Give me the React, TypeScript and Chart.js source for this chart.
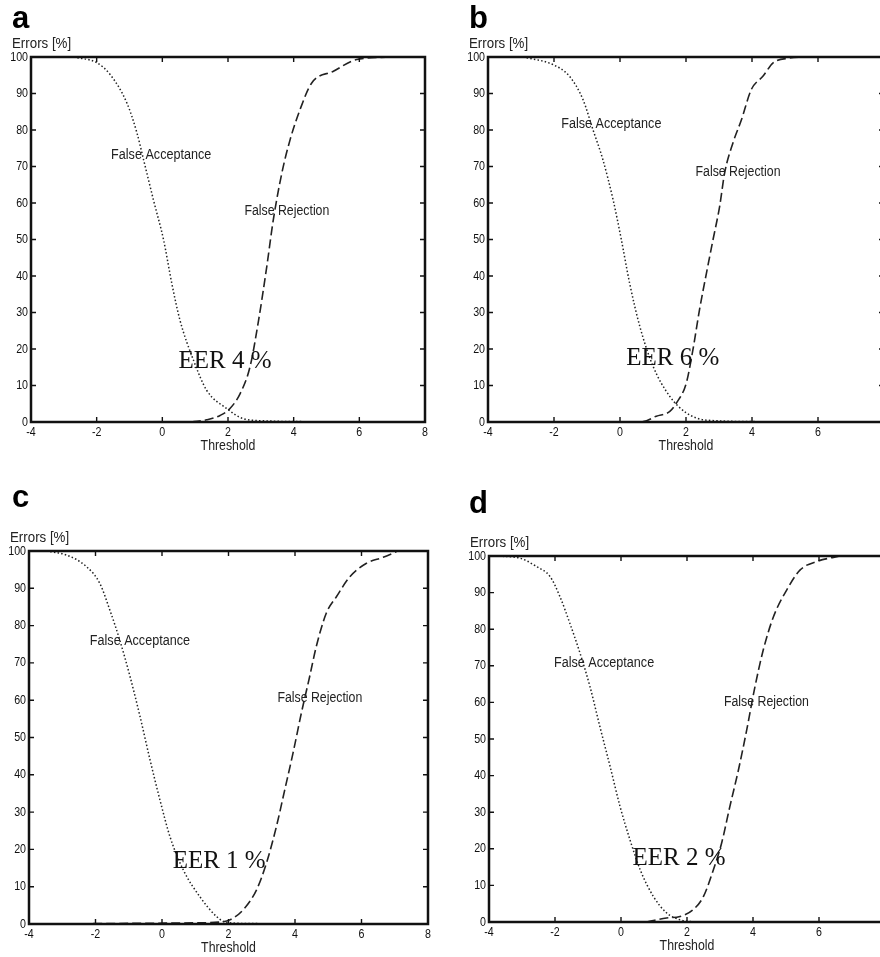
import React, { useEffect, useRef } from "react";
import { Chart, registerables } from "chart.js";
Chart.register(...registerables);

// ---- shared axis ticks ----
const xTickValues = [-4, -2, 0, 2, 4, 6, 8];
const yTickValues = [0, 10, 20, 30, 40, 50, 60, 70, 80, 90, 100];
const seriesNames = ["False Acceptance", "False Rejection"];
const panelLetters = ["a", "b", "c", "d"];
const eerLabels = ["EER 4 %", "EER 6 %", "EER 1 %", "EER 2 %"];
const xAxisTitle = "Threshold";
const yAxisTitle = "Errors [%]";

// ---- panel a ----
const aFaX = [-2.7, -1.99, -1.59, -1.08, -0.77, -0.57, -0.27, 0.04, 0.29, 0.54, 0.95, 1.35, 1.96, 2.47, 3.18, 4.5, 6.93];
const aFaY = [100, 98.4, 95.2, 87.4, 79.1, 71.8, 60.8, 49.8, 37.9, 27.8, 16.9, 8.7, 3.7, 0.9, 0.3, 0.1, 0.1];
const aFrX = [0.9, 1.35, 1.76, 2.06, 2.37, 2.67, 2.93, 3.18, 3.38, 3.64, 3.89, 4.19, 4.55, 5.21, 5.92, 6.93];
const aFrY = [0, 0.6, 1.8, 3.7, 7.8, 15.1, 27.8, 42.5, 55.4, 68.2, 77.3, 85.5, 92.9, 96.1, 99.3, 100];

// ---- panel b ----
const bFaX = [-2.94, -2.03, -1.53, -1.12, -0.82, -0.52, -0.21, 0.04, 0.29, 0.6, 1.0, 1.51, 2.01, 2.62, 4.5, 7.06];
const bFaY = [100, 97.9, 94.7, 88.3, 80.1, 71.9, 60.9, 50, 38.1, 26.2, 15.3, 7.0, 2.5, 0.5, 0.1, 0.1];
const bFrX = [0.29, 0.7, 1.1, 1.51, 1.71, 2.01, 2.21, 2.41, 2.62, 2.82, 3.02, 3.17, 3.42, 3.68, 3.98, 4.33, 4.64, 5.14, 5.65];
const bFrY = [0, 0.1, 1.6, 2.9, 5.2, 10.7, 19.8, 30.8, 40.8, 50, 59.1, 68.2, 76.4, 82.8, 91.1, 94.7, 98.4, 99.7, 100];

// ---- panel c ----
const cFaX = [-3.47, -2.87, -2.27, -1.87, -1.57, -1.27, -0.96, -0.66, -0.36, -0.06, 0.24, 0.64, 1.14, 1.64, 1.94, 3.0, 4.64];
const cFaY = [100, 98.9, 95.8, 91.3, 84.2, 76.1, 66.3, 55.6, 44, 33.2, 23.4, 14.5, 7.3, 2.0, 0.4, 0.1, 0.1];
const cFrX = [-2.07, -0.5, 1.0, 1.7, 2.04, 2.44, 2.84, 3.14, 3.44, 3.69, 3.94, 4.19, 4.44, 4.64, 4.94, 5.25, 5.65, 6.15, 6.65, 7.05];
const cFrY = [0.1, 0.2, 0.3, 0.5, 1.1, 3.8, 9.1, 16.3, 26.1, 35.9, 45.8, 56.5, 66.3, 74.4, 83.3, 87.8, 93.1, 96.7, 98.3, 99.8];

// ---- panel d ----
const dFaX = [-3.82, -3.06, -2.56, -2.15, -1.85, -1.55, -1.24, -0.94, -0.64, -0.33, -0.03, 0.27, 0.58, 0.98, 1.38, 1.79, 2.19, 4.0, 5.83];
const dFaY = [100, 99.4, 97.1, 94.4, 88.9, 81.6, 73.4, 64.3, 53.4, 42.5, 31.6, 22.5, 14.3, 7.0, 2.5, 0.6, 0.1, 0.05, 0.05];
const dFrX = [0.78, 1.38, 1.79, 2.19, 2.5, 2.8, 3.05, 3.3, 3.56, 3.81, 4.06, 4.31, 4.62, 5.02, 5.43, 5.93, 6.64];
const dFrY = [0, 1.1, 1.5, 3.4, 7.0, 14.3, 21.6, 31.6, 41.6, 52.5, 64.3, 74.3, 83.4, 90.7, 96.2, 98.5, 100];

const toPoints = (xs: number[], ys: number[]) => xs.map((x, i) => ({ x, y: ys[i] }));

type PanelCfg = {
  canvas: { left: number; top: number; w: number; h: number };
  plot: { L: number; T: number; R: number; B: number };
  fa: { x: number[]; y: number[] };
  fr: { x: number[]; y: number[] };
  faLabelAt: [number, number];
  frLabelAt: [number, number];
  eerAt: [number, number];
  letterAt: [number, number];
  eer: string;
  letter: string;
};

const panels: PanelCfg[] = [
  {
    canvas: { left: 0, top: 0, w: 440, h: 470 },
    plot: { L: 31, T: 57, R: 425, B: 422 },
    fa: { x: aFaX, y: aFaY }, fr: { x: aFrX, y: aFrY },
    faLabelAt: [-1.56, 73], frLabelAt: [2.5, 57.9], eerAt: [0.49, 16.5],
    letterAt: [12, 28], eer: eerLabels[0], letter: panelLetters[0],
  },
  {
    canvas: { left: 440, top: 0, w: 460, h: 470 },
    plot: { L: 488, T: 57, R: 884, B: 422 },
    fa: { x: bFaX, y: bFaY }, fr: { x: bFrX, y: bFrY },
    faLabelAt: [-1.78, 81.7], frLabelAt: [2.29, 68.5], eerAt: [0.19, 17.3],
    letterAt: [469, 28], eer: eerLabels[1], letter: panelLetters[1],
  },
  {
    canvas: { left: 0, top: 470, w: 440, h: 487 },
    plot: { L: 29, T: 551, R: 428, B: 924 },
    fa: { x: cFaX, y: cFaY }, fr: { x: cFrX, y: cFrY },
    faLabelAt: [-2.17, 75.7], frLabelAt: [3.47, 60.5], eerAt: [0.32, 16.7],
    letterAt: [12, 507], eer: eerLabels[2], letter: panelLetters[2],
  },
  {
    canvas: { left: 440, top: 470, w: 460, h: 487 },
    plot: { L: 489, T: 556, R: 885, B: 922 },
    fa: { x: dFaX, y: dFaY }, fr: { x: dFrX, y: dFrY },
    faLabelAt: [-2.03, 70.7], frLabelAt: [3.12, 60.2], eerAt: [0.35, 17.5],
    letterAt: [469, 513], eer: eerLabels[3], letter: panelLetters[3],
  },
];

const SANS = "'Liberation Sans', Arial, sans-serif";

function drawScaled(ctx: CanvasRenderingContext2D, text: string, x: number, y: number, align: CanvasTextAlign, sx: number) {
  ctx.save();
  ctx.translate(x, y);
  ctx.scale(sx, 1);
  ctx.textAlign = align;
  ctx.fillText(text, 0, 0);
  ctx.restore();
}

function Panel({ cfg }: { cfg: PanelCfg }) {
  const ref = useRef<HTMLCanvasElement>(null);
  useEffect(() => {
    const { canvas, plot } = cfg;
    const yWidth = plot.L - canvas.left;
    const xHeight = canvas.top + canvas.h - plot.B;
    const padTop = plot.T - canvas.top;
    const padRight = canvas.left + canvas.w - plot.R;

    const decor = {
      id: "decor",
      afterDatasetsDraw(chart: any) {
        const { ctx, chartArea } = chart;
        const { left, top, right, bottom } = chartArea;
        const xs = chart.scales.x;
        const ys = chart.scales.y;
        ctx.save();
        // inward tick marks
        ctx.strokeStyle = "#111";
        ctx.lineWidth = 1.4;
        ctx.beginPath();
        xs.ticks.forEach((t: any) => {
          const p = xs.getPixelForValue(t.value);
          ctx.moveTo(p, bottom); ctx.lineTo(p, bottom - 5);
          ctx.moveTo(p, top); ctx.lineTo(p, top + 5);
        });
        ys.ticks.forEach((t: any) => {
          const p = ys.getPixelForValue(t.value);
          ctx.moveTo(left, p); ctx.lineTo(left + 5, p);
          ctx.moveTo(right, p); ctx.lineTo(right - 5, p);
        });
        ctx.stroke();
        // frame
        ctx.lineWidth = 2.5;
        ctx.strokeRect(left, top, right - left, bottom - top);

        // tick labels
        ctx.fillStyle = "#111";
        ctx.font = `13px ${SANS}`;
        ctx.textBaseline = "middle";
        xs.ticks.forEach((t: any) => {
          drawScaled(ctx, String(t.value), xs.getPixelForValue(t.value), bottom + 10, "center", 0.82);
        });
        ys.ticks.forEach((t: any) => {
          drawScaled(ctx, String(t.value), left - 3, ys.getPixelForValue(t.value), "right", 0.82);
        });

        // curve labels
        ctx.fillStyle = "#222";
        ctx.font = `14px ${SANS}`;
        drawScaled(ctx, seriesNames[0], xs.getPixelForValue(cfg.faLabelAt[0]), ys.getPixelForValue(cfg.faLabelAt[1]), "left", 0.9);
        drawScaled(ctx, seriesNames[1], xs.getPixelForValue(cfg.frLabelAt[0]), ys.getPixelForValue(cfg.frLabelAt[1]), "left", 0.88);

        // EER
        ctx.fillStyle = "#111";
        ctx.font = "25px 'Liberation Serif', 'Times New Roman', serif";
        drawScaled(ctx, cfg.eer, xs.getPixelForValue(cfg.eerAt[0]), ys.getPixelForValue(cfg.eerAt[1]), "left", 1);

        // axis titles
        ctx.fillStyle = "#222";
        ctx.font = `14px ${SANS}`;
        drawScaled(ctx, yAxisTitle, left - 19, top - 13, "left", 0.95);
        drawScaled(ctx, xAxisTitle, (left + right) / 2, bottom + 24, "center", 0.88);

        // panel letter
        ctx.fillStyle = "#000";
        ctx.textBaseline = "alphabetic";
        ctx.font = `bold 31px ${SANS}`;
        ctx.textAlign = "left";
        ctx.fillText(cfg.letter, cfg.letterAt[0] - canvas.left, cfg.letterAt[1] - canvas.top);
        ctx.restore();
      },
    };

    const chart = new Chart(ref.current!, {
      type: "line",
      data: {
        datasets: [
          {
            label: seriesNames[0],
            data: toPoints(cfg.fa.x, cfg.fa.y),
            borderColor: "#222",
            borderWidth: 1.5,
            borderDash: [1.5, 2.2],
            pointRadius: 0,
            cubicInterpolationMode: "monotone",
            fill: false,
          },
          {
            label: seriesNames[1],
            data: toPoints(cfg.fr.x, cfg.fr.y),
            borderColor: "#222",
            borderWidth: 1.6,
            borderDash: [9, 4],
            pointRadius: 0,
            cubicInterpolationMode: "monotone",
            fill: false,
          },
        ],
      },
      options: {
        responsive: false,
        animation: false,
        devicePixelRatio: 1,
        layout: { padding: { top: padTop, right: padRight, left: 0, bottom: 0 } },
        plugins: { legend: { display: false }, tooltip: { enabled: false }, title: { display: false } },
        scales: {
          x: {
            type: "linear",
            min: -4,
            max: 8,
            afterBuildTicks: (s: any) => { s.ticks = xTickValues.map((v) => ({ value: v })); },
            afterFit: (s: any) => { s.height = xHeight; },
            grid: { display: false },
            border: { display: false },
            ticks: { display: false },
          },
          y: {
            type: "linear",
            min: 0,
            max: 100,
            afterBuildTicks: (s: any) => { s.ticks = yTickValues.map((v) => ({ value: v })); },
            afterFit: (s: any) => { s.width = yWidth; },
            grid: { display: false },
            border: { display: false },
            ticks: { display: false },
          },
        },
      },
      plugins: [decor],
    } as any);
    return () => chart.destroy();
  }, [cfg]);

  return (
    <canvas
      ref={ref}
      width={cfg.canvas.w}
      height={cfg.canvas.h}
      style={{ position: "absolute", left: cfg.canvas.left, top: cfg.canvas.top, width: cfg.canvas.w, height: cfg.canvas.h }}
    />
  );
}

export default function App() {
  return (
    <div style={{ position: "fixed", left: 0, top: 0, width: 880, height: 957, overflow: "hidden", background: "#fff" }}>
      {panels.map((p, i) => (
        <Panel key={i} cfg={p} />
      ))}
    </div>
  );
}
